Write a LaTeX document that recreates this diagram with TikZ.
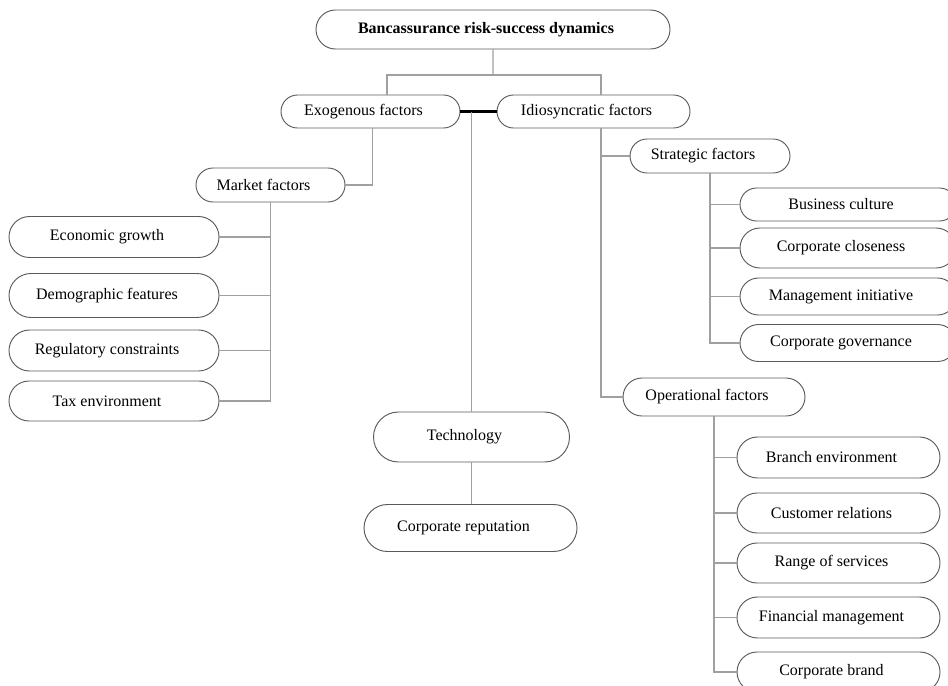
\documentclass[tikz,border=0pt]{standalone}
\usepackage{fontspec}
\setmainfont{Liberation Serif}
\usepackage{xcolor}
\usepackage{tikz}
\usetikzlibrary{shapes.misc}
\definecolor{boxgray}{RGB}{90,90,90}
\definecolor{linegray}{RGB}{160,160,160}

\begin{document}
\begin{tikzpicture}[
  x=0.75pt, y=-0.75pt,
  box/.style={rounded rectangle, draw=boxgray, line width=0.7pt,
              inner sep=0pt, align=center,
              font=\fontsize{12}{14}\selectfont,
              execute at end node={\kern10.5pt}},
  link/.style={draw=linegray, line width=0.9pt},
  tie/.style={draw=black, line width=1.6pt}
]
  \useasboundingbox (0,0) rectangle (948,685);

  % top levels
  \node[box, minimum width=265.5pt, minimum height=29.25pt,
        font=\fontsize{12}{14}\selectfont\bfseries] (root) at (493,29.5)
       {Bancassurance risk-success dynamics};
  \node[box, minimum width=134.25pt, minimum height=24.75pt] (exo) at (370.5,111.5) {Exogenous factors};
  \node[box, minimum width=144.75pt, minimum height=24.75pt] (idio) at (593.5,111.5) {Idiosyncratic factors};

  % exogenous branch
  \node[box, minimum width=111.75pt, minimum height=25.5pt] (mkt) at (270.5,185) {Market factors};
  \node[box, minimum width=157.5pt, minimum height=30.75pt] (econ) at (114,237) {Economic growth};
  \node[box, minimum width=157.5pt, minimum height=33pt] (demo) at (114,295.5) {Demographic features};
  \node[box, minimum width=157.5pt, minimum height=30.75pt] (reg) at (114,350.5) {Regulatory constraints};
  \node[box, minimum width=157.5pt, minimum height=30pt] (tax) at (114,401) {Tax environment};

  % middle column
  \node[box, minimum width=147pt, minimum height=37.5pt] (tech) at (471.5,437) {Technology};
  \node[box, minimum width=159.75pt, minimum height=35.25pt] (rep) at (470.5,528) {Corporate reputation};

  % idiosyncratic branch
  \node[box, minimum width=120pt, minimum height=25.5pt] (strat) at (710,156) {Strategic factors};
  \node[box, minimum width=162pt, minimum height=24.75pt] (bc) at (848,204.5) {Business culture};
  \node[box, minimum width=162pt, minimum height=30pt] (cc) at (848,248) {Corporate closeness};
  \node[box, minimum width=162pt, minimum height=27.75pt] (mi) at (848,296.5) {Management initiative};
  \node[box, minimum width=162pt, minimum height=27.75pt] (cg) at (848,343) {Corporate governance};

  \node[box, minimum width=136.5pt, minimum height=28.5pt] (op) at (714,397) {Operational factors};
  \node[box, minimum width=152.25pt, minimum height=30.75pt] (be) at (838.5,457.5) {Branch environment};
  \node[box, minimum width=152.25pt, minimum height=30pt] (cr) at (838.5,513) {Customer relations};
  \node[box, minimum width=152.25pt, minimum height=30pt] (rs) at (838.5,563) {Range of services};
  \node[box, minimum width=152.25pt, minimum height=30.75pt] (fm) at (838.5,617.5) {Financial management};
  \node[box, minimum width=152.25pt, minimum height=30pt] (cb) at (838.5,672) {Corporate brand};

  % connectors
  \coordinate (split) at (493,75);
  \draw[link] (root) -- (split);
  \draw[link] (split) -| ([xshift=12.4pt]exo.north);
  \draw[link] (split) -| ([xshift=5.6pt]idio.north);
  \draw[tie] (exo.east) -- (idio.west);
  \draw[link] (exo.east -| tech.north) -- (tech.north);
  \draw[link] (tech.south) -- (tech.south |- rep.north);

  \draw[link] ([xshift=1.2pt]exo.south) |- (mkt.east);
  \foreach \n in {econ,demo,reg,tax}
    \draw[link] (mkt.south) |- (\n.east);

  \draw[link] ([xshift=5.6pt]idio.south) |- (strat.west);
  \draw[link] ([xshift=5.6pt]idio.south) |- (op.west);
  \foreach \n in {bc,cc,mi,cg}
    \draw[link] (strat.south) |- (\n.west);
  \foreach \n in {be,cr,rs,fm,cb}
    \draw[link] (op.south) |- (\n.west);
\end{tikzpicture}
\end{document}
